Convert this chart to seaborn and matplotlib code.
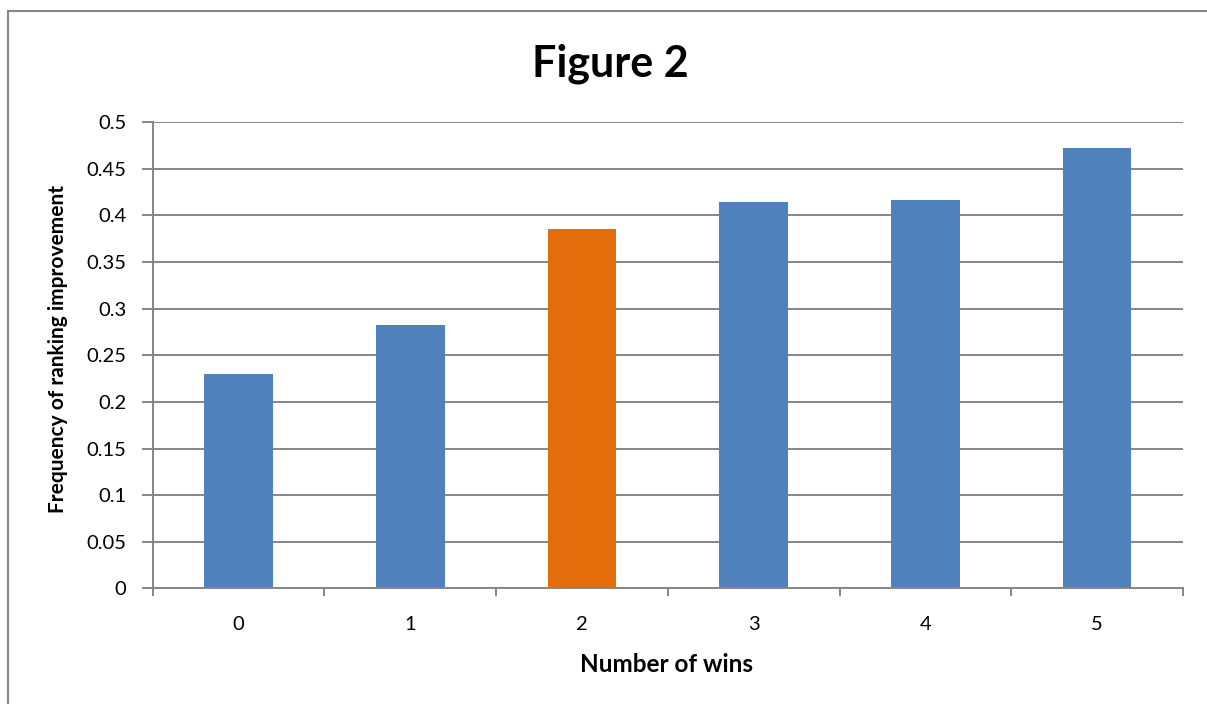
import matplotlib
matplotlib.use("Agg")
import matplotlib.pyplot as plt
from matplotlib.lines import Line2D
import seaborn as sns
import pandas as pd

# Share of players whose ranking improved, by number of wins
wins = ["0", "1", "2", "3", "4", "5"]
frequency = [0.230, 0.283, 0.386, 0.414, 0.417, 0.472]
bar_colors = ["#4F81BD", "#4F81BD", "#E46C0A", "#4F81BD", "#4F81BD", "#4F81BD"]
y_ticks = [0, 0.05, 0.1, 0.15, 0.2, 0.25, 0.3, 0.35, 0.4, 0.45, 0.5]
y_tick_labels = ["0", "0.05", "0.1", "0.15", "0.2", "0.25", "0.3", "0.35", "0.4", "0.45", "0.5"]

sns.set_theme(style="white")
plt.rcParams["font.family"] = ["Lato", "DejaVu Sans"]

df = pd.DataFrame({"wins": wins, "frequency": frequency})

W, H = 1207, 704
fig = plt.figure(figsize=(W / 100, H / 100), dpi=100)
fig.patch.set_facecolor("white")

left, right, bottom, top = 152.7, 1183, 588.3, 122.3
ax = fig.add_axes([left / W, 1 - bottom / H, (right - left) / W, (bottom - top) / H])

grid_color = "#868686"
ax.set_axisbelow(True)
ax.yaxis.grid(True, color=grid_color, linewidth=1.4)
ax.xaxis.grid(False)

sns.barplot(data=df, x="wins", y="frequency", hue="wins", palette=bar_colors,
            width=0.4, legend=False, saturation=1, ax=ax, linewidth=0)

ax.set_xlim(-0.5, len(wins) - 0.5)
ax.set_ylim(0, 0.5)
ax.set_yticks(y_ticks)
ax.set_yticklabels(y_tick_labels)

# Tick marks sit at category boundaries, labels at category centres
ax.set_xticks([i - 0.5 for i in range(len(wins) + 1)])
ax.set_xticklabels([""] * (len(wins) + 1))
ax.set_xticks(range(len(wins)), minor=True)
ax.set_xticklabels(wins, minor=True)
ax.tick_params(axis="x", which="major", direction="out", length=6, width=1.4,
               color=grid_color, bottom=True)
ax.tick_params(axis="x", which="minor", length=0, pad=20, labelsize=14.5,
               labelcolor="black")
ax.tick_params(axis="y", which="major", direction="out", length=8, width=1.4,
               color=grid_color, left=True, pad=11, labelsize=14.5, labelcolor="black")

for side in ["top", "right"]:
    ax.spines[side].set_visible(False)
for side in ["left", "bottom"]:
    ax.spines[side].set_visible(True)
    ax.spines[side].set_color(grid_color)
    ax.spines[side].set_linewidth(1.4)

ax.set_xlabel("")
ax.set_ylabel("")

fig.text(610.5 / W, 1 - 77 / H, "Figure 2", ha="center", va="baseline",
         fontsize=31, fontweight="bold", color="black")
fig.text(666.5 / W, 1 - 672 / H, "Number of wins", ha="center", va="baseline",
         fontsize=17.5, fontweight="bold", color="black")
fig.text(58 / W, 1 - 349 / H, "Frequency of ranking improvement", ha="center",
         va="center", rotation=90, fontsize=15, fontweight="bold", color="black")

# Chart frame (left and top edges)
frame_x, frame_y = 7.5 / W, 1 - 10.5 / H
fig.add_artist(Line2D([frame_x, frame_x], [-0.05, frame_y], transform=fig.transFigure,
                      color=grid_color, linewidth=1.5))
fig.add_artist(Line2D([frame_x, 1.05], [frame_y, frame_y], transform=fig.transFigure,
                      color=grid_color, linewidth=1.5))

fig.savefig("out.png", dpi=100)
